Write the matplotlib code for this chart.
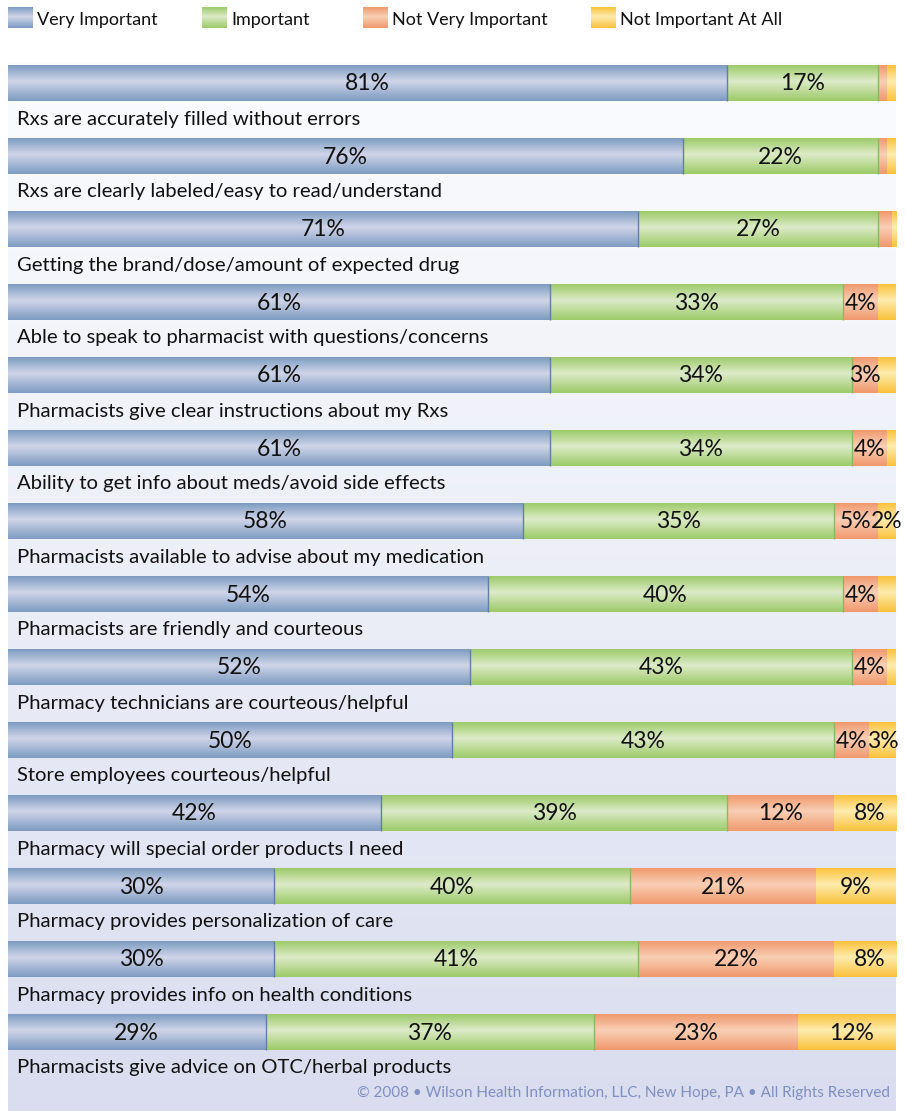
import numpy as np
import matplotlib.pyplot as plt
from matplotlib.colors import LinearSegmentedColormap

plt.rcParams['font.family'] = ['Lato', 'DejaVu Sans']

# categories, top to bottom
items = [
    "Rxs are accurately filled without errors",
    "Rxs are clearly labeled/easy to read/understand",
    "Getting the brand/dose/amount of expected drug",
    "Able to speak to pharmacist with questions/concerns",
    "Pharmacists give clear instructions about my Rxs",
    "Ability to get info about meds/avoid side effects",
    "Pharmacists available to advise about my medication",
    "Pharmacists are friendly and courteous",
    "Pharmacy technicians are courteous/helpful",
    "Store employees courteous/helpful",
    "Pharmacy will special order products I need",
    "Pharmacy provides personalization of care",
    "Pharmacy provides info on health conditions",
    "Pharmacists give advice on OTC/herbal products",
]

very = [81, 76, 71, 61, 61, 61, 58, 54, 52, 50, 42, 30, 30, 29]
important = [17, 22, 27, 33, 34, 34, 35, 40, 43, 43, 39, 40, 41, 37]
not_very = [1, 1, 1.5, 4, 3, 4, 5, 4, 4, 4, 12, 21, 22, 23]
not_at_all = [1, 1, 1, 2, 2, 2, 2, 2, 2, 3, 8, 9, 8, 12]

# which small segments carry a printed label
not_very_shown = [False, False, False, True, True, True, True, True, True, True, True, True, True, True]
not_at_all_shown = [False, False, False, False, False, False, True, False, False, True, True, True, True, True]

series = ["Very Important", "Important", "Not Very Important", "Not Important At All"]
dark = ["#7d9cc1", "#9dca69", "#f0996e", "#f9c23c"]
light = ["#d0d5e9", "#dcebc8", "#f9cfb5", "#feecae"]
edge = ["#5f7fa6", "#8fb85e", "#e08a60", "#e8b030"]


def band_cmap(i):
    return LinearSegmentedColormap.from_list(
        "b%d" % i, [(0, dark[i]), (0.45, light[i]), (1, dark[i])])


W, H = 906, 1111
fig = plt.figure(figsize=(W / 100, H / 100), dpi=100)

# panel axes in pixel-like units (y from top of panel)
top, left, right = 62, 8, 896
ax = fig.add_axes([left / W, 0, (right - left) / W, (H - top) / H])
ax.axis('off')

bg = LinearSegmentedColormap.from_list("bg", ["#fbfcfe", "#eceef7", "#d9ddef"])
ax.imshow(np.linspace(0, 1, 256).reshape(-1, 1), extent=[0, 1, 0, 1],
          transform=ax.transAxes, aspect='auto', cmap=bg, zorder=0)

ys = 21 + 73 * np.arange(len(items))
bar_h = 36
grad = np.linspace(0, 1, 64).reshape(-1, 1)

data = [very, important, not_very, not_at_all]
shown = [[True] * len(items), [True] * len(items), not_very_shown, not_at_all_shown]
lefts = np.zeros(len(items))
for k, vals in enumerate(data):
    vals = np.array(vals, dtype=float)
    # the bar stops at 100%
    widths = np.clip(np.minimum(vals, 100 - lefts), 0, None)
    bars = ax.barh(ys, widths, left=lefts, height=bar_h, color=light[k], zorder=1)
    cm = band_cmap(k)
    for b in bars:
        x0, y0 = b.get_x(), b.get_y()
        im = ax.imshow(grad, extent=[x0, x0 + b.get_width(), y0 + bar_h, y0],
                       aspect='auto', cmap=cm, zorder=2)
        im.set_clip_path(b)
    # thin darker line where the segment ends
    if k < 2:
        ax.vlines(lefts + widths, ys - bar_h / 2, ys + bar_h / 2, color=edge[k],
                  linewidth=1, zorder=2.5)
    for i, v in enumerate(vals):
        if shown[k][i]:
            ax.text(lefts[i] + v / 2, ys[i] + 1, "%g%%" % v, ha='center', va='center',
                    fontsize=16.5, color='#111111', zorder=3)
    lefts += vals

for i, name in enumerate(items):
    ax.text(1.0, ys[i] + 36, name, ha='left', va='center', fontsize=14.6,
            color='#111111', zorder=3)

ax.text(99.3, 1031, "\u00a9 2008 \u2022 Wilson Health Information, LLC, New Hope, PA \u2022 All Rights Reserved",
        ha='right', va='center', fontsize=11, color='#7f8fc0', zorder=3)

ax.set_xlim(0, 100)
ax.set_ylim(H - top, 0)

# legend with gradient swatches
legend_x = [8, 202, 363, 591]
for k, name in enumerate(series):
    sax = fig.add_axes([legend_x[k] / W, 1 - 28 / H, 25 / W, 21 / H])
    sax.imshow(grad, aspect='auto', cmap=band_cmap(k))
    sax.axis('off')
    fig.text((legend_x[k] + 29) / W, 1 - 20 / H, name, ha='left', va='center',
             fontsize=13, color='#111111')

fig.savefig("out.png", dpi=100)
